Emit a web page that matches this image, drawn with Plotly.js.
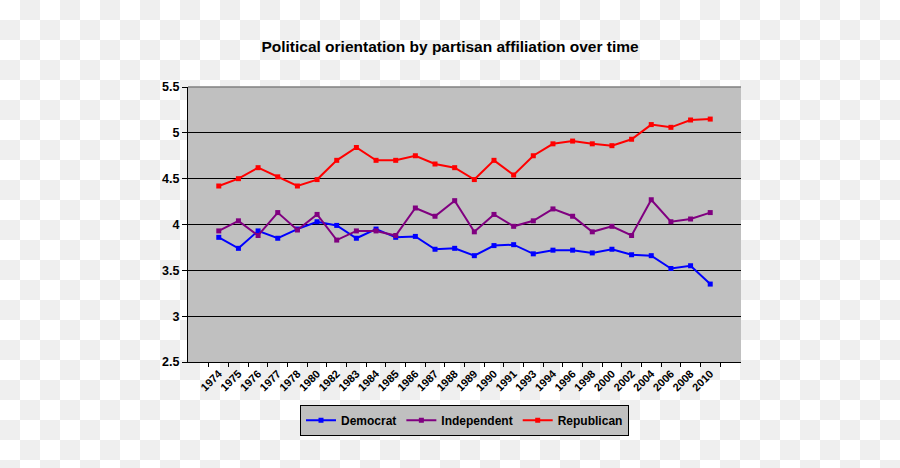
<!DOCTYPE html>
<html>
<head>
<meta charset="utf-8">
<script src="https://cdn.plot.ly/plotly-3.0.1.min.js"></script>
<style>
  html, body {
    margin: 0;
    padding: 0;
    width: 900px;
    height: 468px;
    overflow: hidden;
    background: repeating-conic-gradient(#efefef 0 25%, #ffffff 0 50%) 0 0 / 40px 40px;
  }
  #chart { width: 900px; height: 468px; }
</style>
</head>
<body>
<div id="chart"></div>
<script>
const years = [
  "1974", "1975", "1976", "1977", "1978", "1980", "1982", "1983", "1984",
  "1985", "1986", "1987", "1988", "1989", "1990", "1991", "1993", "1994",
  "1996", "1998", "2000", "2002", "2004", "2006", "2008", "2010",
];

const democrat = [
  3.86, 3.74, 3.93, 3.85, 3.95, 4.03, 3.99, 3.85, 3.95, 3.86, 3.87, 3.73, 3.74,
  3.66, 3.77, 3.78, 3.68, 3.72, 3.72, 3.69, 3.73, 3.67, 3.66, 3.52, 3.55, 3.35,
];

const independent = [
  3.93, 4.04, 3.88, 4.13, 3.94, 4.11, 3.83, 3.93, 3.93, 3.88, 4.18, 4.09, 4.26,
  3.92, 4.11, 3.98, 4.04, 4.17, 4.09, 3.92, 3.98, 3.88, 4.27, 4.03, 4.06, 4.13,
];

const republican = [
  4.42, 4.50, 4.62, 4.52, 4.42, 4.49, 4.70, 4.84, 4.70, 4.70, 4.75, 4.66, 4.62,
  4.49, 4.70, 4.54, 4.75, 4.88, 4.91, 4.88, 4.86, 4.93, 5.09, 5.06, 5.14, 5.15,
];

const yTicks = [2.5, 3, 3.5, 4, 4.5, 5, 5.5];
const yTickText = ["2.5", "3", "3.5", "4", "4.5", "5", "5.5"];

const FONT = "Liberation Sans, Arial, sans-serif";

function series(name, values, color) {
  return {
    x: years,
    y: values,
    type: "scatter",
    mode: "lines+markers",
    name,
    line: { color, width: 2 },
    marker: { color, size: 5, symbol: "square" },
  };
}

const traces = [
  series("Democrat", democrat, "#0000ff"),
  series("Independent", independent, "#800080"),
  series("Republican", republican, "#ff0000"),
];

Plotly.newPlot("chart", traces, {
  width: 900,
  height: 468,
  paper_bgcolor: "rgba(0,0,0,0)",
  plot_bgcolor: "#c0c0c0",
  margin: { t: 87, r: 159, b: 106, l: 188 },
  font: { family: FONT, color: "#000000" },
  title: {
    text: "<b>Political orientation by partisan affiliation over time</b>",
    font: { family: FONT, size: 15.5, color: "#000000" },
    x: 0.5,
    xanchor: "center",
    y: 1 - 47 / 468,
    yanchor: "middle",
  },
  xaxis: {
    type: "category",
    tickangle: -45,
    tickson: "boundaries",
    ticks: "outside",
    ticklen: 4,
    tickcolor: "#000000",
    tickfont: { family: FONT, size: 11, color: "#000000", weight: "bold" },
    showline: true,
    linecolor: "#000000",
    linewidth: 1,
    showgrid: false,
    zeroline: false,
    fixedrange: true,
  },
  yaxis: {
    range: [2.5, 5.5],
    tickvals: yTicks,
    ticktext: yTickText,
    ticks: "outside",
    ticklen: 5,
    tickcolor: "#000000",
    tickfont: { family: FONT, size: 12.5, color: "#000000", weight: "bold" },
    showline: true,
    linecolor: "#000000",
    linewidth: 1,
    showgrid: true,
    gridcolor: "#000000",
    gridwidth: 1,
    zeroline: false,
    fixedrange: true,
  },
  shapes: [
    {
      type: "line",
      xref: "paper",
      yref: "paper",
      x0: 0,
      x1: 1,
      y0: 1,
      y1: 1,
      line: { color: "#808080", width: 1.5 },
    },
  ],
  showlegend: true,
  legend: {
    orientation: "h",
    x: 0.5,
    xanchor: "center",
    y: -0.155,
    yanchor: "top",
    bgcolor: "#c0c0c0",
    bordercolor: "#000000",
    borderwidth: 1,
    itemwidth: 30,
    tracegroupgap: 0,
    font: { family: FONT, size: 12, color: "#000000", weight: "bold" },
  },
}, {
  displayModeBar: false,
  staticPlot: true,
});
</script>
</body>
</html>
